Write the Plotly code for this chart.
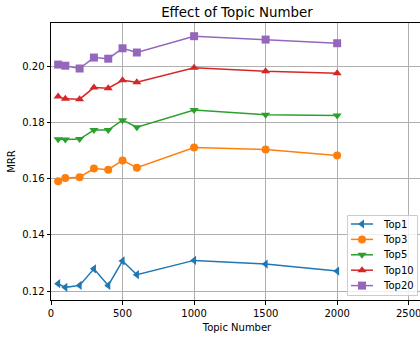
import plotly.graph_objects as go

topics = [50, 100, 200, 300, 400, 500, 600, 1000, 1500, 2000]
top1 = [0.1226, 0.1213, 0.1220, 0.1279, 0.1220, 0.1307, 0.1258, 0.1309, 0.1296, 0.1271]
top3 = [0.1591, 0.1602, 0.1605, 0.1636, 0.1632, 0.1665, 0.1639, 0.1711, 0.1704, 0.1682]
top5 = [0.1740, 0.1739, 0.1741, 0.1773, 0.1773, 0.1808, 0.1783, 0.1844, 0.1827, 0.1825]
top10 = [0.1892, 0.1884, 0.1883, 0.1924, 0.1922, 0.1950, 0.1943, 0.1995, 0.1982, 0.1975]
top20 = [0.2006, 0.2002, 0.1992, 0.2031, 0.2027, 0.2064, 0.2049, 0.2107, 0.2095, 0.2082]

names = ["Top1", "Top3", "Top5", "Top10", "Top20"]
series = [top1, top3, top5, top10, top20]
colors = ["#1f77b4", "#ff7f0e", "#2ca02c", "#d62728", "#9467bd"]
symbols = ["triangle-left", "circle", "triangle-down", "triangle-up", "square"]

font = "DejaVu Sans"

# plot area in pixels
L, R, T, B = 51, 423, 23, 300
W, H = R - L, B - T
def dx(px):
    return (px - L) / W
def dy(py):
    return (B - py) / H

fig = go.Figure()
for n, s, c, m in zip(names, series, colors, symbols):
    fig.add_trace(go.Scatter(x=topics, y=s, name=n, mode="lines+markers",
                             line=dict(color=c, width=1.5),
                             marker=dict(symbol=m, size=8, color=c),
                             showlegend=False))

# custom legend (matplotlib-like compact spacing), drawn on an overlay axis in domain units
leg_left, leg_right, leg_top, leg_bottom = 347.5, 417.5, 215.5, 295.5
row0, row_gap = 224, 15.4
line_x0, line_x1, text_x = 351, 373, 381
bx0, bx1, by0, by1 = dx(leg_left), dx(leg_right), dy(leg_bottom), dy(leg_top)
fig.add_trace(go.Scatter(x=[bx0, bx1, bx1, bx0, bx0], y=[by0, by0, by1, by1, by0],
                         mode="lines", fill="toself", fillcolor="rgba(255,255,255,0.8)",
                         line=dict(color="#cccccc", width=1),
                         xaxis="x2", yaxis="y2", showlegend=False, hoverinfo="skip"))
annotations = []
for i, (n, c, m) in enumerate(zip(names, colors, symbols)):
    yy = dy(row0 + i * row_gap)
    fig.add_trace(go.Scatter(x=[dx(line_x0), dx(line_x1)], y=[yy, yy], mode="lines",
                             line=dict(color=c, width=1.5),
                             xaxis="x2", yaxis="y2", showlegend=False, hoverinfo="skip"))
    fig.add_trace(go.Scatter(x=[dx((line_x0 + line_x1) / 2)], y=[yy], mode="markers",
                             marker=dict(symbol=m, size=8, color=c),
                             xaxis="x2", yaxis="y2", showlegend=False, hoverinfo="skip"))
    annotations.append(dict(xref="x domain", yref="y domain", x=dx(text_x), y=yy,
                            xanchor="left", yanchor="middle", showarrow=False, text=n,
                            font=dict(family=font, size=10, color="black")))

axis_common = dict(showgrid=True, gridcolor="#b0b0b0", gridwidth=1, zeroline=False,
                   showline=True, linecolor="black", linewidth=1, mirror=True,
                   ticks="outside", ticklen=3.5, tickcolor="black", automargin=False,
                   tickfont=dict(family=font, size=10, color="black"))
fig.update_layout(
    width=L + W + 17, height=337,
    margin=dict(l=L, r=17, t=T, b=337 - B),
    paper_bgcolor="white", plot_bgcolor="white",
    font=dict(family=font, size=10, color="black"),
    title=dict(text="Effect of Topic Number", x=(L + W / 2) / (L + W + 17), xanchor="center",
               y=1 - 12 / 337, yanchor="middle", yref="container",
               font=dict(family=font, size=13.4, color="black")),
    xaxis=dict(range=[0, 2600], tickvals=[0, 500, 1000, 1500, 2000, 2500],
               title=dict(text="Topic Number", font=dict(family=font, size=10), standoff=6),
               **axis_common),
    yaxis=dict(range=[0.1168, 0.2154], tickvals=[0.12, 0.14, 0.16, 0.18, 0.20],
               tickformat=".2f",
               title=dict(text="MRR", font=dict(family=font, size=10), standoff=4),
               **axis_common),
    xaxis2=dict(overlaying="x", range=[0, 1], visible=False, fixedrange=True, automargin=False),
    yaxis2=dict(overlaying="y", range=[0, 1], visible=False, fixedrange=True, automargin=False),
    annotations=annotations,
    showlegend=False,
)
fig.write_html("out.html")
